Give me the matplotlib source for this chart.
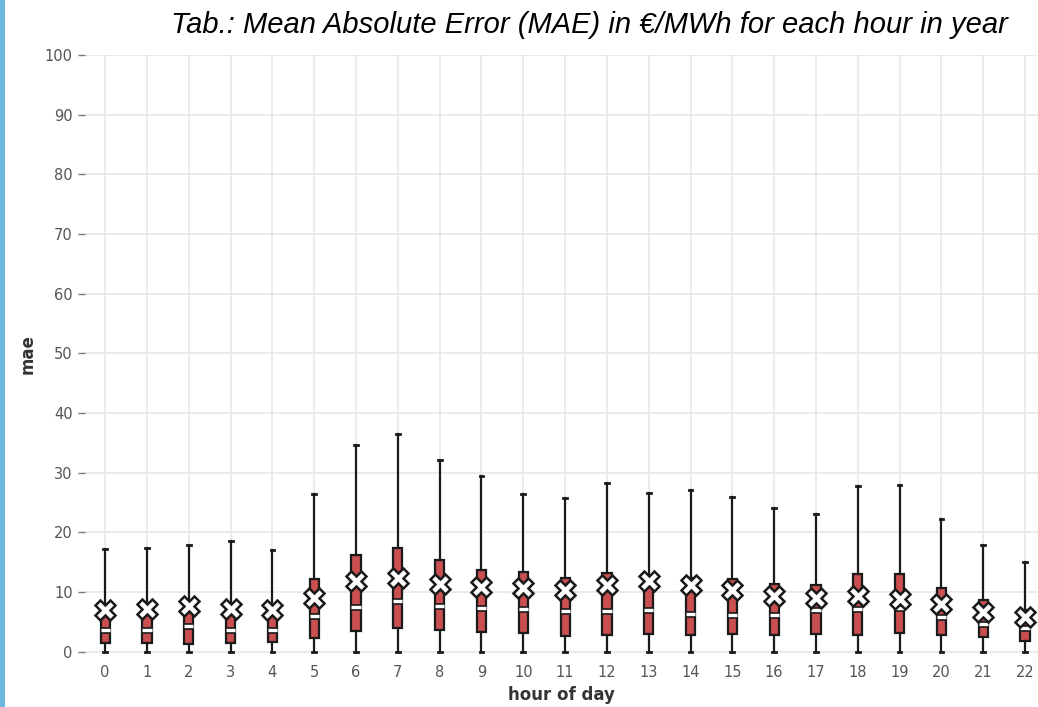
import matplotlib
matplotlib.use("Agg")
import matplotlib.pyplot as plt
import matplotlib.patheffects as pe
from matplotlib.patches import Rectangle

plt.rcParams["font.family"] = ["DejaVu Sans"]

# Hourly MAE distribution (€/MWh): whiskers, quartiles, median and mean per hour
hours = list(range(23))
whisker_low = [0.0] * 23
q1 = [1.5, 1.5, 1.2, 1.4, 1.6, 2.3, 3.4, 4.0, 3.7, 3.3, 3.1, 2.6,
      2.8, 3.0, 2.7, 2.9, 2.7, 2.9, 2.8, 3.1, 2.7, 2.4, 1.7]
medians = [3.6, 3.7, 4.3, 3.7, 3.7, 5.9, 7.5, 8.4, 7.6, 7.3, 7.2, 6.8,
           6.8, 6.9, 6.3, 6.1, 6.2, 6.9, 7.2, 7.3, 5.8, 4.6, 3.9]
q3 = [7.5, 7.5, 8.0, 7.5, 7.2, 12.1, 16.2, 17.3, 15.4, 13.7, 13.3, 12.3,
      13.1, 12.3, 12.3, 12.2, 11.4, 11.2, 13.0, 13.0, 10.6, 8.6, 7.0]
whisker_high = [17.2, 17.3, 17.9, 18.6, 17.0, 26.5, 34.6, 36.4, 32.1, 29.4,
                26.4, 25.7, 28.3, 26.6, 27.1, 25.9, 24.0, 23.1, 27.8, 28.0,
                22.3, 17.9, 15.1]
means = [7.0, 7.2, 7.6, 7.2, 6.9, 9.0, 11.8, 12.4, 11.4, 10.8, 10.7, 10.3,
         11.1, 11.8, 11.2, 10.4, 9.4, 9.0, 9.3, 8.8, 7.9, 6.6, 5.8]
y_ticks = list(range(0, 101, 10))

stats = []
for h, lo, a, m, b, hi, mu in zip(hours, whisker_low, q1, medians, q3,
                                  whisker_high, means):
    stats.append(dict(label=str(h), whislo=lo, q1=a, med=m, q3=b,
                      whishi=hi, mean=mu, fliers=[]))

fig = plt.figure(figsize=(10.38, 7.07), dpi=100)
ax = fig.add_axes([0.082, 0.075, 0.918, 0.847])

box_color = "#c94f51"
edge = "#1a1a1a"
ax.bxp(
    stats, positions=hours, widths=0.22, patch_artist=True,
    showmeans=True, showfliers=False, manage_ticks=False,
    boxprops=dict(facecolor=box_color, edgecolor=edge, linewidth=1.6),
    whiskerprops=dict(color=edge, linewidth=1.6),
    capprops=dict(color=edge, linewidth=2.0),
    capwidths=0.09,
    medianprops=dict(color="white", linewidth=2.4,
                     path_effects=[pe.Stroke(linewidth=4.8, foreground=edge),
                                   pe.Normal()]),
    meanprops=dict(marker="X", markerfacecolor="white",
                   markeredgecolor=edge, markeredgewidth=1.8,
                   markersize=14),
    zorder=3,
)

ax.set_xlim(-0.48, 22.31)
ax.set_ylim(-0.4, 100)
ax.set_xticks(hours)
ax.set_xticklabels([str(h) for h in hours])
ax.set_yticks(y_ticks)

for s in ax.spines.values():
    s.set_visible(False)
ax.grid(True, color="#e8e8e8", linewidth=1.2, zorder=0)
ax.set_axisbelow(True)
ax.tick_params(axis="y", length=5, width=1, color="#777777",
               labelcolor="#555555", labelsize=10.5, pad=4)
ax.tick_params(axis="x", length=0, labelcolor="#555555",
               labelsize=10.5, pad=8)

ax.set_xlabel("hour of day", fontsize=12, fontweight="bold",
              color="#333333", labelpad=4)
ax.set_ylabel("mae", fontsize=12, fontweight="bold", color="#333333",
              labelpad=6)

fig.text(0.5675, 0.965,
         "Tab.: Mean Absolute Error (MAE) in €/MWh for each hour in year",
         ha="center", va="center", fontsize=21, style="italic",
         family="Liberation Sans", color="black")

# Accent bar along the left edge
fig.patches.append(Rectangle((0, 0), 0.005, 1, transform=fig.transFigure,
                             facecolor="#6cb9dd", edgecolor="none"))

fig.savefig("out.png", dpi=100)
